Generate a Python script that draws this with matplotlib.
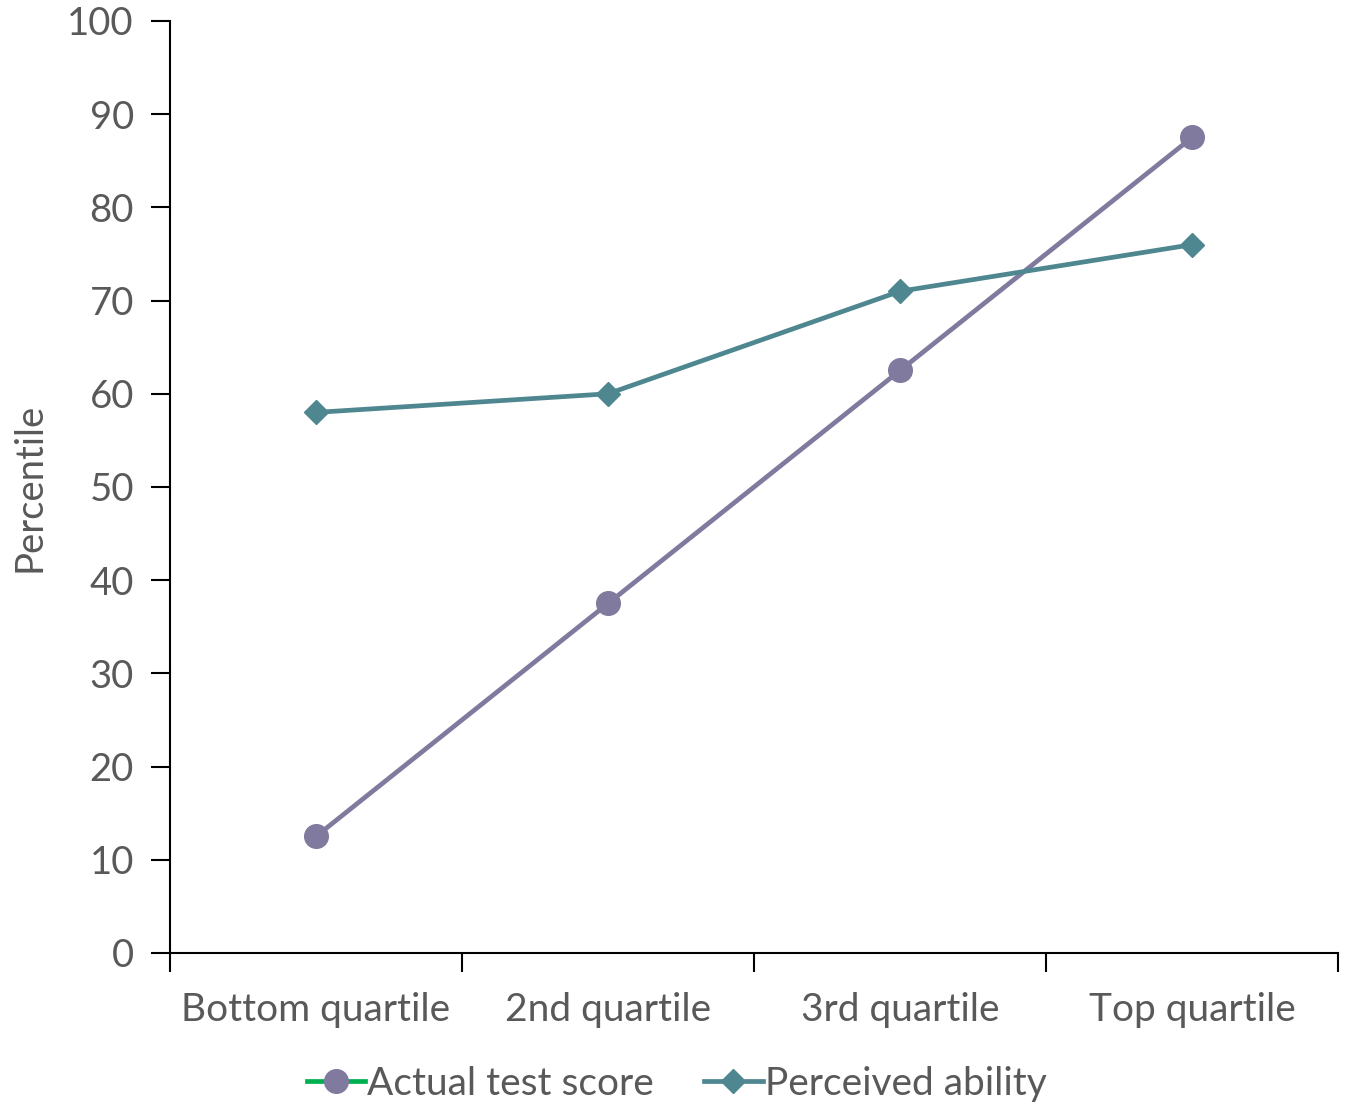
import matplotlib
matplotlib.use("Agg")
import matplotlib.pyplot as plt
from matplotlib.lines import Line2D

plt.rcParams['font.family'] = ['Lato', 'DejaVu Sans']

# quartile groups and percentile values
quartiles = ["Bottom quartile", "2nd quartile", "3rd quartile", "Top quartile"]
actual_score = [12.5, 37.5, 62.5, 87.5]
perceived_ability = [58, 60, 71, 76]

text_grey = "#595959"
purple = "#7F7A9E"
teal = "#4E8790"

fig = plt.figure(figsize=(13.53, 11.05), dpi=100)
ax = fig.add_axes([0.1256, 0.1376, 0.8634, 0.8434])

x = list(range(len(quartiles)))
ax.plot(x, actual_score, color=purple, lw=3.4, marker="o", ms=17, zorder=3)
ax.plot(x, perceived_ability, color=teal, lw=3.4, marker="D", ms=12.5, zorder=3)

ax.set_xlim(-0.5, 3.5)
ax.set_ylim(0, 100)
ax.set_yticks(range(0, 101, 10))
ax.set_xticks([-0.5, 0.5, 1.5, 2.5, 3.5])
ax.set_xticklabels([])
ax.set_xticks(x, minor=True)
ax.set_xticklabels(quartiles, minor=True)
ax.tick_params(axis="x", which="minor", length=0, pad=28, labelsize=28, labelcolor=text_grey)
ax.tick_params(axis="x", which="major", length=14, width=1.5, direction="out")
ax.tick_params(axis="y", length=14, width=1.5, direction="out", pad=12,
               labelsize=27.5, labelcolor=text_grey)

for side in ["top", "right"]:
    ax.spines[side].set_visible(False)
for side in ["left", "bottom"]:
    ax.spines[side].set_linewidth(1.5)

ax.set_ylabel("Percentile", fontsize=27.5, color=text_grey, labelpad=14)

handles = [
    Line2D([], [], color="#00B050", lw=3.4, marker="o", ms=17,
           markerfacecolor=purple, markeredgecolor=purple),
    Line2D([], [], color=teal, lw=3.4, marker="D", ms=12.5),
]
fig.legend(handles, ["Actual test score", "Perceived ability"],
           loc="center", bbox_to_anchor=(0.5, 0.019), ncol=2, frameon=False,
           fontsize=28, labelcolor=text_grey, handlelength=1.5,
           handletextpad=0.05, columnspacing=1.3)

fig.savefig("out.png", dpi=100)
